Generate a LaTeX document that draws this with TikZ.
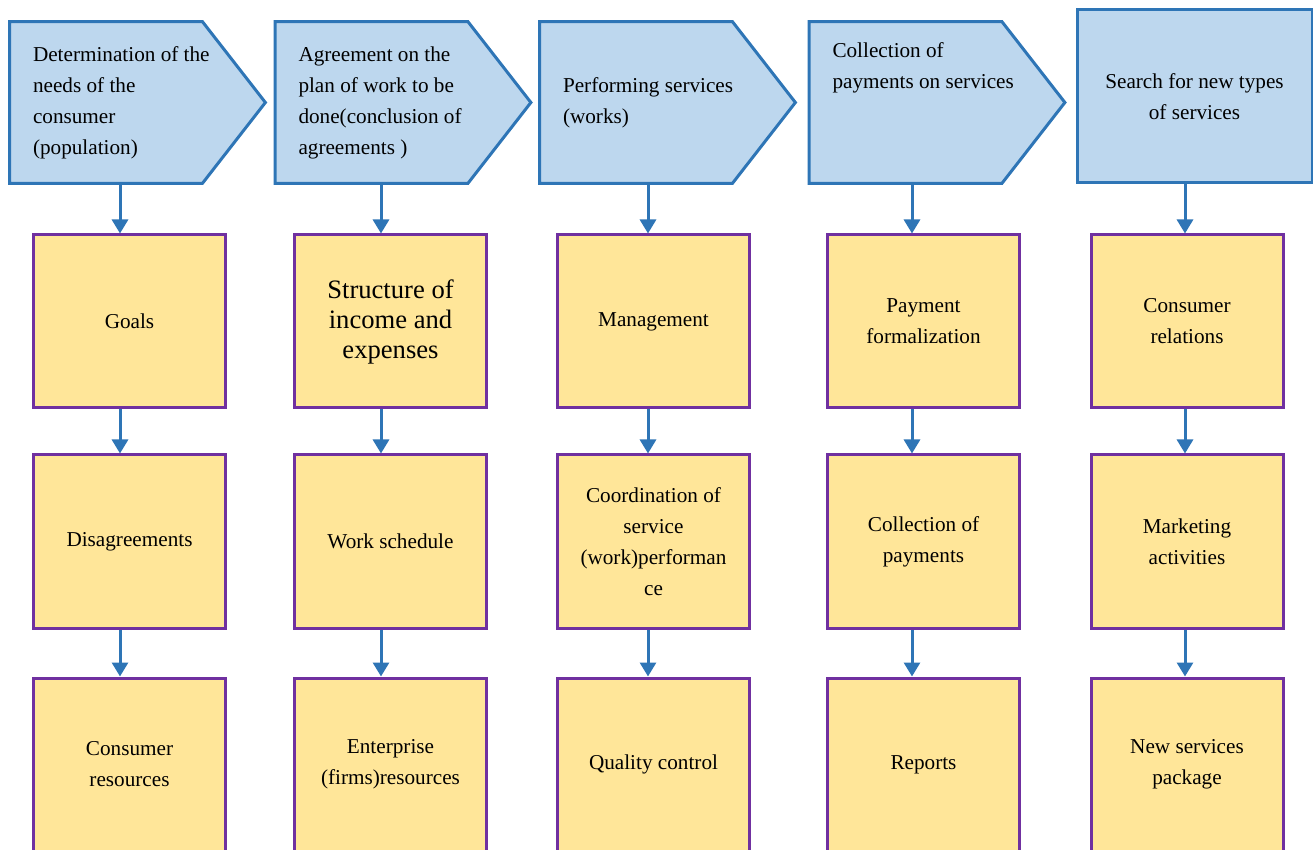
\documentclass[tikz,border=0pt]{standalone}
\usepackage{fontspec}
\setmainfont{Liberation Serif}
\usepackage{xcolor}
\usetikzlibrary{positioning, arrows.meta, backgrounds}
\definecolor{stageblue}{HTML}{BDD7EE}
\definecolor{stageedge}{HTML}{2E75B6}
\definecolor{taskyellow}{HTML}{FFE699}
\definecolor{taskedge}{HTML}{7030A0}
\tikzset{
  stage/.style={inner xsep=11.5pt, inner ysep=0pt, text width=104.5pt,
    minimum height=80.5pt, align=flush left, font=\fontsize{10.6}{15.5}\selectfont},
  task/.style={draw=taskedge, fill=taskyellow, line width=1.5pt,
    minimum width=96pt, minimum height=86.5pt, align=center,
    font=\fontsize{10.6}{15.5}\selectfont},
  flow/.style={draw=stageedge, line width=1.5pt, -{Triangle[width=8pt,length=7pt]}}
}

\begin{document}
\begin{tikzpicture}[x=0.5pt, y=-0.5pt]
    \useasboundingbox (0,0) rectangle (1313,850);
    % stages
    \node[stage] (hdr1) at (137.5,102.5) {Determination of the\\needs of the\\consumer\\(population)};
    \node[stage] (hdr2) at (403,102.5) {Agreement on the\\plan of work to be\\done(conclusion of\\agreements )};
    \node[stage] (hdr3) at (667.5,102.5) {Performing services\\(works)};
    \node[stage] (hdr4) at (937,102.5) {Collection of\\payments on services\\[21.5pt]\mbox{}};
    \node[stage, draw=stageedge, fill=stageblue, line width=1.5pt, inner xsep=4pt,
          text width=109.5pt, minimum height=86.5pt, align=flush center]
          (hdr5) at (1194.5,96.5) {Search for new types\\of services};
    \begin{scope}[on background layer]
      \foreach \h in {hdr1,hdr2,hdr3,hdr4}
        \draw[stageedge, fill=stageblue, line width=1.5pt] (\h.north west)
          -- ([xshift=-31.5pt]\h.north east) -- (\h.east)
          -- ([xshift=-31.5pt]\h.south east) -- (\h.south west) -- cycle;
    \end{scope}
    % tasks
    \node[task] (t11) at (129.5,321.5) {Goals};
    \node[task] (t12) at (129.5,541.5) {Disagreements};
    \node[task] (t13) at (129.5,764.5) {Consumer\\resources};
    \node[task, font=\fontsize{13.3}{15}\selectfont] (t21) at (390.5,321.5) {Structure of\\income and\\expenses};
    \node[task] (t22) at (390.5,541.5) {Work schedule};
    \node[task] (t23) at (390.5,764.5) {Enterprise\\(firms)resources};
    \node[task] (t31) at (653.5,321.5) {Management};
    \node[task] (t32) at (653.5,541.5) {Coordination of\\service\\(work)performan\\ce};
    \node[task] (t33) at (653.5,764.5) {Quality control};
    \node[task] (t41) at (923.5,321.5) {Payment\\formalization};
    \node[task] (t42) at (923.5,541.5) {Collection of\\payments};
    \node[task] (t43) at (923.5,764.5) {Reports};
    \node[task] (t51) at (1187,321.5) {Consumer\\relations};
    \node[task] (t52) at (1187,541.5) {Marketing\\activities};
    \node[task] (t53) at (1187,764.5) {New services\\package};
    % arrows
    \foreach \col/\dx in {1/-4.75pt, 2/-4.75pt, 3/-2.75pt, 4/-5.75pt, 5/-1pt} {
      \draw[flow] ([xshift=\dx]t\col1.north |- hdr\col.south) -- ([xshift=\dx]t\col1.north);
      \draw[flow] ([xshift=\dx]t\col1.south) -- ([xshift=\dx]t\col2.north);
      \draw[flow] ([xshift=\dx]t\col2.south) -- ([xshift=\dx]t\col3.north);
    }
  \end{tikzpicture}
\end{document}
